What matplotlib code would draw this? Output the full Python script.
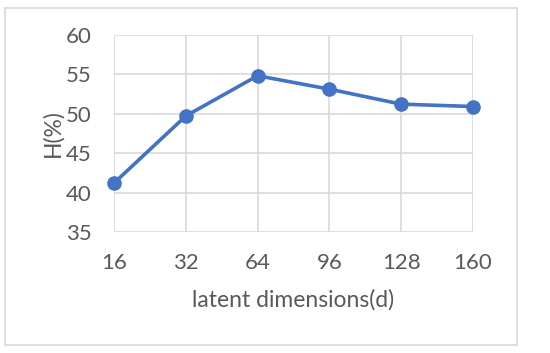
import matplotlib
matplotlib.use("Agg")
import matplotlib.pyplot as plt
from matplotlib.patches import Rectangle

categories = ["16", "32", "64", "96", "128", "160"]
values = [41.2, 49.7, 54.8, 53.1, 51.2, 50.9]
yticks = [35, 40, 45, 50, 55, 60]

plt.rcParams['font.family'] = ['Lato', 'DejaVu Sans']

fig = plt.figure(figsize=(5.5, 3.53), dpi=100)
ax = fig.add_axes([114/550, 1-232/353, (473-114)/550, (232-34.7)/353])

x = list(range(len(categories)))
ax.plot(x, values, color="#4472C4", lw=2.6, marker="o", ms=9.5, zorder=3, clip_on=False)

ax.set_xlim(0, len(categories)-1)
ax.set_ylim(35, 60)
ax.set_xticks(x)
ax.set_xticklabels(categories)
ax.set_yticks(yticks)
ax.grid(True, color="#D9D9D9", lw=1.2)
ax.set_axisbelow(True)
for s in ax.spines.values():
    s.set_visible(False)
ax.tick_params(length=0, labelsize=16, colors="#595959")
ax.tick_params(axis='x', pad=15)
ax.tick_params(axis='y', pad=16)
ax.set_xlabel("latent dimensions(d)", fontsize=16.5, color="#595959", labelpad=12)
ax.set_ylabel("H(%)", fontsize=16.5, color="#595959", labelpad=2)

fig.patches.append(Rectangle((5/550, 8/353), 512/550, 337/353, transform=fig.transFigure,
                             fill=False, edgecolor="#D9D9D9", lw=1.2))

fig.savefig("out.png", dpi=100)
